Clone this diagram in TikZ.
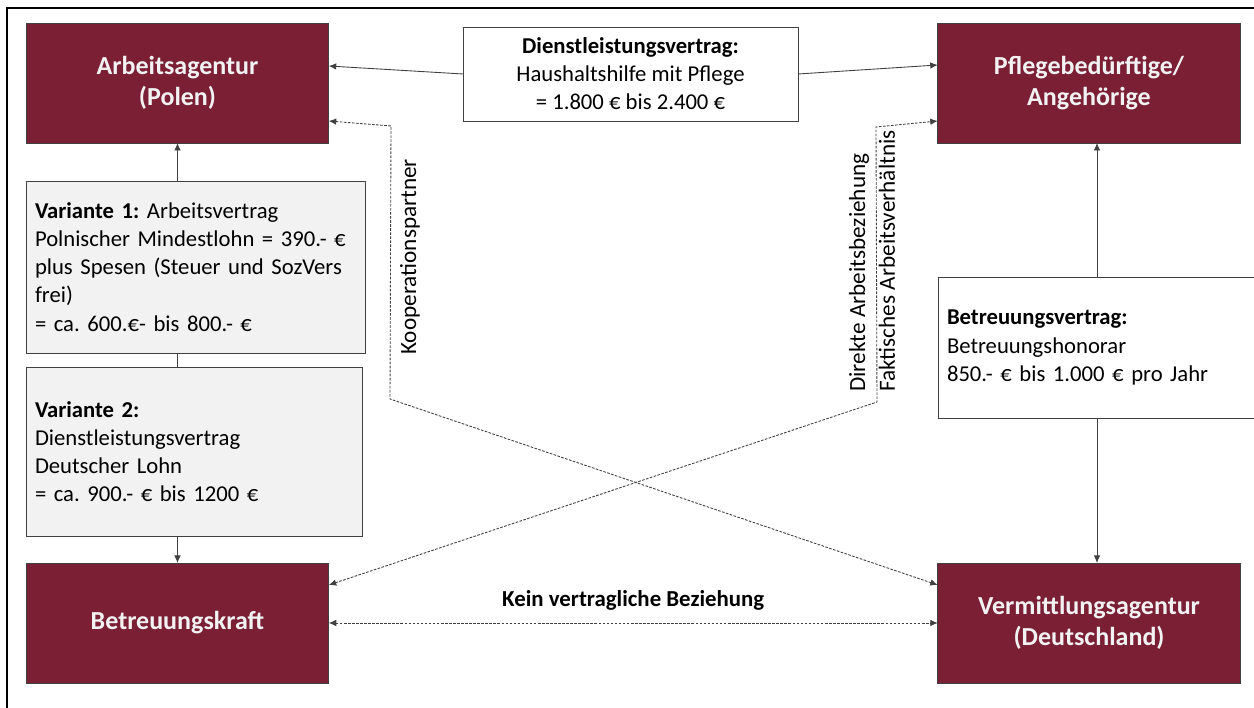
\documentclass[tikz,border=0pt]{standalone}
\usepackage{fontspec}
\setmainfont{Carlito}
\frenchspacing
\usetikzlibrary{calc}
\usetikzlibrary{arrows.meta}
\tikzset{>={Latex[width=1.3mm,length=1.5mm]}}
\definecolor{weinrot}{RGB}{122,31,52}
\definecolor{hellgrau}{RGB}{242,242,242}
\definecolor{linie}{RGB}{64,64,64}

\begin{document}
\begin{tikzpicture}[
    akteur/.style = {draw=linie, fill=weinrot, text=hellgrau, align=center,
        font=\fontsize{14.8}{17.5}\selectfont\bfseries,
        minimum width=6.05cm, minimum height=2.4cm, inner sep=0mm, outer sep=0mm},
    vertrag/.style = {draw=linie, fill=white, font=\fontsize{12.9}{16}\selectfont,
        inner xsep=1.8mm, inner ysep=0mm, outer sep=0mm},
    variante/.style = {vertrag, fill=hellgrau, align=left},
    pfeil/.style = {->, draw=linie, line width=0.5pt},
    strich/.style = {<->, draw=linie, line width=0.5pt, dash pattern=on 1.5pt off 0.8pt},
    randtext/.style = {font=\fontsize{13.2}{17}\selectfont, rotate=90, anchor=west, align=left, inner sep=0mm}
  ]
  \clip (0,0) rectangle (25.08,14.14);
  \draw[line width=1.2pt] (0.14,-1) rectangle (26,13.98);

  \node[akteur] (AGENTUR) at (3.55,12.48) {Arbeitsagentur\\(Polen)};
  \node[akteur] (PFLEGE) at (21.78,12.48) {Pflegebedürftige/\\Angehörige};
  \node[akteur] (KRAFT) at (3.55,1.68) {Betreuungskraft};
  \node[akteur] (VERMITTLUNG) at (21.78,1.68) {Vermittlungsagentur\\(Deutschland)};

  \node[vertrag, align=center, minimum width=6.7cm, minimum height=1.88cm] (DIENST) at (12.61,12.66)
    {\textbf{Dienstleistungsvertrag:}\\Haushaltshilfe mit Pflege\\= 1.800 € bis 2.400 €};
  \node[variante, text width=6.42cm, minimum height=3.44cm] (VAR1) at (3.91,8.80)
    {\textbf{Variante 1:} Arbeitsvertrag\\Polnischer Mindestlohn = 390.- €\\plus Spesen (Steuer und SozVers\\frei)\\= ca. 600.€- bis 800.- €};
  \node[variante, text width=6.36cm, minimum height=3.38cm] (VAR2) at (3.88,5.11)
    {\textbf{Variante 2:}\\Dienstleistungsvertrag\\Deutscher Lohn\\= ca. 900.- € bis 1200 €};
  \node[vertrag, align=left, text width=6.0cm, minimum height=2.82cm] (BVERTRAG) at (21.94,7.19)
    {\textbf{Betreuungsvertrag:}\\Betreuungshonorar\\850.- € bis 1.000 € pro Jahr};

  \coordinate (K1) at (7.82,11.62);
  \coordinate (K2) at (7.80,6.16);
  \coordinate (D1) at (17.54,6.10);
  \coordinate (D2) at (17.52,11.60);

  \draw[pfeil] (DIENST.west) -- ([yshift=3.4mm]AGENTUR.east);
  \draw[pfeil] (DIENST.east) -- ([yshift=3.6mm]PFLEGE.west);
  \draw[pfeil] (VAR1.north -| AGENTUR.south) -- (AGENTUR.south);
  \draw[draw=linie, line width=0.5pt] (VAR1.south -| AGENTUR.south) -- (VAR2.north -| AGENTUR.south);
  \draw[pfeil] (VAR2.south -| AGENTUR.south) -- (KRAFT.north);
  \draw[pfeil] (BVERTRAG.north) -- (BVERTRAG.north |- PFLEGE.south);
  \draw[pfeil] (BVERTRAG.south) -- (BVERTRAG.south |- VERMITTLUNG.north);

  \draw[strich] ([yshift=-7.6mm]AGENTUR.east) -- (K1) -- (K2) -- ([yshift=7.6mm]VERMITTLUNG.west);
  \draw[strich] ([yshift=7.6mm]KRAFT.east) -- (D1) -- (D2) -- ([yshift=-7.6mm]PFLEGE.west);
  \draw[strich] (KRAFT.east) -- node[midway, above=1.3mm, font=\fontsize{13}{15}\selectfont\bfseries] (KEIN) {Kein vertragliche Beziehung} (VERMITTLUNG.west);

  \node[randtext] (KOOP) at (8.20,7.04) {Kooperationspartner};
  \node[randtext] (DIREKT) at (17.44,6.30) {Direkte Arbeitsbeziehung\\Faktisches Arbeitsverhältnis};
\end{tikzpicture}
\end{document}
